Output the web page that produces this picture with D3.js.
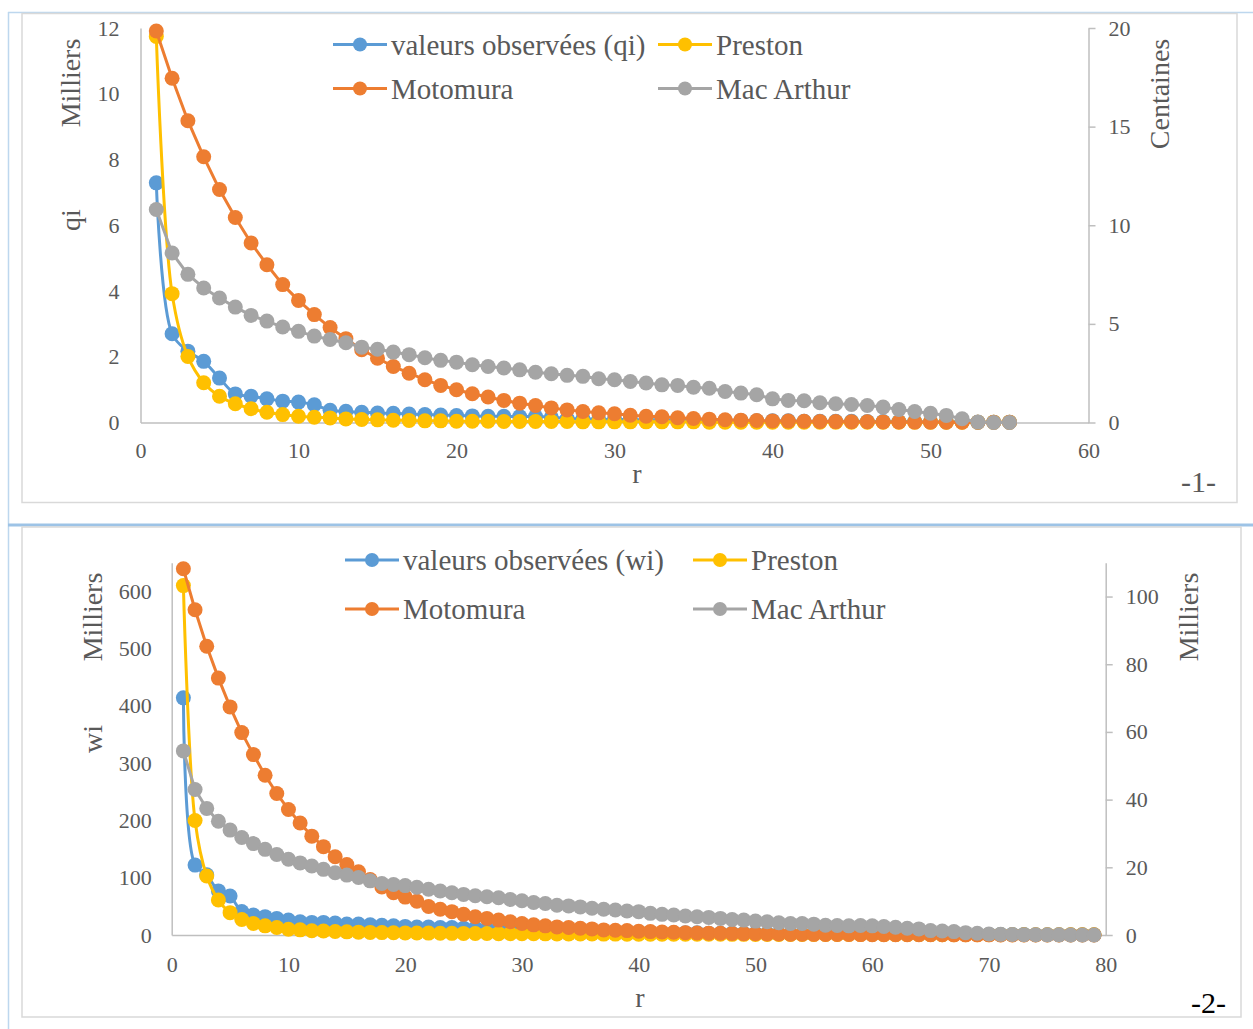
<!DOCTYPE html>
<html><head><meta charset="utf-8">
<script src="https://cdn.jsdelivr.net/npm/d3@7"></script>
<style>body{margin:0;background:#fff} svg text{font-family:"Liberation Serif","Times New Roman",serif;}</style>
</head><body><svg id="c" width="1253" height="1029"></svg>
<script>
// ---------- Chart 1 data (r = 1..55) ----------
const rTop = d3.range(1, 56);
const xTicksTop = [0, 10, 20, 30, 40, 50, 60];
const yLeftTicksTop = [0, 2, 4, 6, 8, 10, 12];      // Milliers
const yRightTicksTop = [0, 5, 10, 15, 20];           // Centaines
const obsQ = [7.29,2.70,2.17,1.86,1.35,0.87,0.80,0.72,0.65,0.62,0.54,0.37,0.34,0.31,0.29,0.28,0.26,0.24,0.23,0.21,0.20,0.19,0.19,0.18,0.18,0.16,0.12,0.11,0.10,0.09,0.09,0.08,0.08,0.07,0.07,0.06,0.06,0.06,0.05,0.05,0.05,0.04,0.04,0.04,0.04,0.03,0.03,0.03,0.03,0.02,0.02,0.02,0.01,0.01,0.01];
const prestonQ = [11.74,3.92,2.01,1.21,0.80,0.57,0.42,0.31,0.24,0.19,0.16,0.14,0.11,0.09,0.08,0.07,0.06,0.05,0.05,0.04,0.04,0.04,0.03,0.03,0.03,0.03,0.03,0.02,0.02,0.02,0.02,0.02,0.02,0.02,0.02,0.01,0.01,0.01,0.01,0.01,0.01,0.01,0.01,0.01,0.01,0.01,0.01,0.01,0.01,0.01,0.01,0.01,0.01,0.01,0.01];
const motomuraQ = [19.85,17.45,15.30,13.47,11.81,10.39,9.10,8.00,6.99,6.19,5.47,4.81,4.25,3.69,3.26,2.84,2.50,2.17,1.88,1.66,1.46,1.29,1.12,0.98,0.86,0.74,0.64,0.56,0.49,0.44,0.37,0.32,0.29,0.24,0.20,0.17,0.14,0.12,0.10,0.08,0.07,0.06,0.05,0.045,0.04,0.035,0.03,0.025,0.02,0.02,0.015,0.015,0.01,0.01,0.01];
const macArthurQ = [10.8,8.59,7.51,6.82,6.31,5.85,5.43,5.14,4.84,4.62,4.38,4.21,4.04,3.82,3.71,3.57,3.44,3.28,3.15,3.06,2.93,2.84,2.76,2.67,2.55,2.47,2.39,2.34,2.22,2.17,2.08,2.00,1.91,1.88,1.79,1.74,1.57,1.49,1.41,1.20,1.12,1.10,1.00,0.95,0.91,0.86,0.78,0.66,0.56,0.47,0.36,0.19,0.02,0.0,0.0];

// ---------- Chart 2 data (r = 1..79) ----------
const rBot = d3.range(1, 80);
const xTicksBot = [0, 10, 20, 30, 40, 50, 60, 70, 80];
const yLeftTicksBot = [0, 100, 200, 300, 400, 500, 600];   // Milliers
const yRightTicksBot = [0, 20, 40, 60, 80, 100];           // Milliers
const obsW = [414,122,105,77,68,41,35,32,29,26,23,22,22,21,19,19,18,17,16,15,14,14,13,13,12,12,11,11,10,9,8,8,7,7,6,6,6,5,5,5,5,4,4,4,4,3,3,3,3,3,3,2,2,2,2,2,2,2,2,1.5,1.5,1.5,1.5,1,1,1,1,1,1,1,1,1,1,0.5,0.5,0.5,0.5,0.5,0.5];
const prestonW = [610,200,103,61,39,27,20,16,13,10,9,7.5,7,6,5.5,5,4.5,4.2,4,3.7,3.5,3.3,3.1,2.9,2.8,2.6,2.5,2.4,2.3,2.2,2.1,2,1.9,1.8,1.8,1.7,1.6,1.6,1.5,1.5,1.4,1.4,1.3,1.3,1.2,1.2,1.2,1.1,1.1,1.0,1.0,1.0,0.9,0.9,0.9,0.9,0.8,0.8,0.8,0.8,0.7,0.7,0.7,0.7,0.7,0.6,0.6,0.6,0.6,0.6,0.6,0.5,0.5,0.5,0.5,0.5,0.5,0.5,0.5];
const motomuraW = [108.2,96.1,85.3,75.9,67.4,59.8,53.3,47.2,41.8,37.1,33.1,29.2,26.1,23.1,20.8,18.7,16.4,14.2,12.5,11.2,10.0,8.4,7.6,6.9,6.1,5.4,4.9,4.4,3.9,3.4,3.0,2.7,2.4,2.2,2.0,1.8,1.5,1.4,1.3,1.1,1.0,0.9,0.8,0.7,0.6,0.55,0.5,0.45,0.4,0.35,0.3,0.28,0.25,0.22,0.2,0.18,0.16,0.14,0.12,0.11,0.1,0.09,0.08,0.07,0.06,0.06,0.05,0.05,0.04,0.04,0.03,0.03,0.03,0.02,0.02,0.02,0.02,0.01,0.01];
const macArthurW = [54.4,43.0,37.4,33.6,31.0,28.8,27.0,25.3,23.8,22.4,21.3,20.4,19.4,18.4,17.7,17.0,16.0,15.2,14.9,14.6,14.1,13.5,13.0,12.5,12.0,11.6,11.3,11.0,10.5,10.1,9.6,9.3,8.8,8.6,8.3,7.9,7.6,7.4,7.1,6.9,6.4,6.1,5.9,5.6,5.4,5.2,4.9,4.6,4.4,4.1,3.9,3.6,3.4,3.4,3.2,2.9,2.8,2.7,2.8,2.7,2.5,2.3,2.0,1.8,1.3,1.2,1.0,0.7,0.5,0.3,0.2,0.15,0.1,0.1,0.05,0.05,0.02,0.01,0.0];

const COLORS = {obs:"#5B9BD5", preston:"#FFC000", motomura:"#ED7D31", mac:"#A5A5A5"};
const TXT = "#595959", AX = "#BFBFBF";

const svg = d3.select("#c");

// ---------- frames ----------
svg.append("line").attr("x1",8).attr("x2",1253).attr("y1",12.5).attr("y2",12.5).attr("stroke","#BDD7EE").attr("stroke-width",1.5);
svg.append("line").attr("x1",8.5).attr("x2",8.5).attr("y1",12).attr("y2",1029).attr("stroke","#BDD7EE").attr("stroke-width",1.5);
svg.append("rect").attr("x",22).attr("y",13.5).attr("width",1215).attr("height",489).attr("fill","none").attr("stroke","#D9D9D9").attr("stroke-width",1.5);
svg.append("line").attr("x1",8).attr("x2",1253).attr("y1",525).attr("y2",525).attr("stroke","#9DC3E6").attr("stroke-width",3);
svg.append("rect").attr("x",22).attr("y",527).attr("width",1219).attr("height",490).attr("fill","none").attr("stroke","#D9D9D9").attr("stroke-width",1.5);

function styleAxis(g){
  g.attr("font-family",null).attr("font-size",null);
  g.select(".domain").attr("stroke",AX).attr("stroke-width",1.5);
  g.selectAll(".tick line").attr("stroke",AX).attr("stroke-width",1.5);
  g.selectAll(".tick text").attr("fill",TXT).style("font-size","22px");
}

function drawChart(c){
  const g = svg.append("g");
  const x = d3.scaleLinear().domain(c.xDomain).range(c.xRange);
  const yL = d3.scaleLinear().domain(c.yLDomain).range(c.yRange);
  const yR = d3.scaleLinear().domain(c.yRDomain).range(c.yRange);

  g.append("g").attr("transform",`translate(0,${c.yRange[0]})`)
    .call(d3.axisBottom(x).tickValues(c.xTicks).tickSize(0).tickSizeOuter(0).tickPadding(c.xPad)).call(styleAxis);
  g.append("g").attr("transform",`translate(${c.xRange[0]},0)`)
    .call(d3.axisLeft(yL).tickValues(c.yLTicks).tickSize(0).tickSizeOuter(0).tickPadding(c.yLPad)).call(styleAxis);
  g.append("g").attr("transform",`translate(${c.xRange[1]},0)`)
    .call(d3.axisRight(yR).tickValues(c.yRTicks).tickSize(7).tickSizeOuter(0).tickPadding(13)).call(styleAxis);

  c.series.forEach(s=>{
    const ys = s.axis==="L" ? yL : yR;
    const pts = c.r.map((r,i)=>[x(r), ys(s.values[i])]);
    const line = d3.line().curve(s.smooth ? d3.curveCatmullRom.alpha(0.5) : d3.curveLinear);
    g.append("path").attr("d",line(pts)).attr("fill","none").attr("stroke",s.color).attr("stroke-width",3).attr("stroke-linejoin","round");
    g.append("g").selectAll("circle").data(pts).join("circle")
      .attr("cx",d=>d[0]).attr("cy",d=>d[1]).attr("r",7.5).attr("fill",s.color);
  });

  // legend
  c.legend.forEach(l=>{
    g.append("line").attr("x1",l.x).attr("x2",l.x+54).attr("y1",l.y).attr("y2",l.y).attr("stroke",l.color).attr("stroke-width",3);
    g.append("circle").attr("cx",l.x+27).attr("cy",l.y).attr("r",7).attr("fill",l.color);
    g.append("text").attr("x",l.x+58).attr("y",l.y+10).attr("fill",TXT).style("font-size","29px").text(l.label);
  });

  c.texts.forEach(t=>{
    const tx = g.append("text").attr("fill",t.color||TXT).style("font-size",(t.size||28)+"px").text(t.text);
    if(t.rot){ tx.attr("text-anchor","middle").attr("transform",`translate(${t.x},${t.y}) rotate(-90)`); }
    else { tx.attr("x",t.x).attr("y",t.y).attr("text-anchor",t.anchor||"middle"); }
  });
}

drawChart({
  r: rTop, xDomain:[0,60], xRange:[140.5,1088.5], yLDomain:[0,12], yRDomain:[0,20], yRange:[422.5,28],
  xTicks:xTicksTop, yLTicks:yLeftTicksTop, yRTicks:yRightTicksTop, xPad:20, yLPad:21,
  series:[
    {values:obsQ, axis:"L", color:COLORS.obs, smooth:true},
    {values:prestonQ, axis:"L", color:COLORS.preston, smooth:true},
    {values:motomuraQ, axis:"R", color:COLORS.motomura, smooth:false},
    {values:macArthurQ, axis:"R", color:COLORS.mac, smooth:false}
  ],
  legend:[
    {x:333,y:44.5,color:COLORS.obs,label:"valeurs observées (qi)"},
    {x:658,y:44.5,color:COLORS.preston,label:"Preston"},
    {x:333,y:88.5,color:COLORS.motomura,label:"Motomura"},
    {x:658,y:88.5,color:COLORS.mac,label:"Mac Arthur"}
  ],
  texts:[
    {text:"Milliers", x:80, y:83, rot:true},
    {text:"qi", x:80, y:220, rot:true},
    {text:"Centaines", x:1169, y:94, rot:true},
    {text:"r", x:637, y:483},
    {text:"-1-", x:1181, y:492, anchor:"start", size:30}
  ]
});

drawChart({
  r: rBot, xDomain:[0,80], xRange:[171.7,1105.7], yLDomain:[0,650], yRDomain:[0,110], yRange:[935,562.7],
  xTicks:xTicksBot, yLTicks:yLeftTicksBot, yRTicks:yRightTicksBot, xPad:21, yLPad:20,
  series:[
    {values:obsW, axis:"L", color:COLORS.obs, smooth:true},
    {values:prestonW, axis:"L", color:COLORS.preston, smooth:true},
    {values:motomuraW, axis:"R", color:COLORS.motomura, smooth:false},
    {values:macArthurW, axis:"R", color:COLORS.mac, smooth:false}
  ],
  legend:[
    {x:345,y:560,color:COLORS.obs,label:"valeurs observées (wi)"},
    {x:693,y:560,color:COLORS.preston,label:"Preston"},
    {x:345,y:609,color:COLORS.motomura,label:"Motomura"},
    {x:693,y:609,color:COLORS.mac,label:"Mac Arthur"}
  ],
  texts:[
    {text:"Milliers", x:101.5, y:617, rot:true},
    {text:"wi", x:101.5, y:739, rot:true},
    {text:"Milliers", x:1198, y:617, rot:true},
    {text:"r", x:640, y:1007},
    {text:"-2-", x:1191, y:1013, anchor:"start", size:30, color:"#000"}
  ]
});
</script></body></html>
